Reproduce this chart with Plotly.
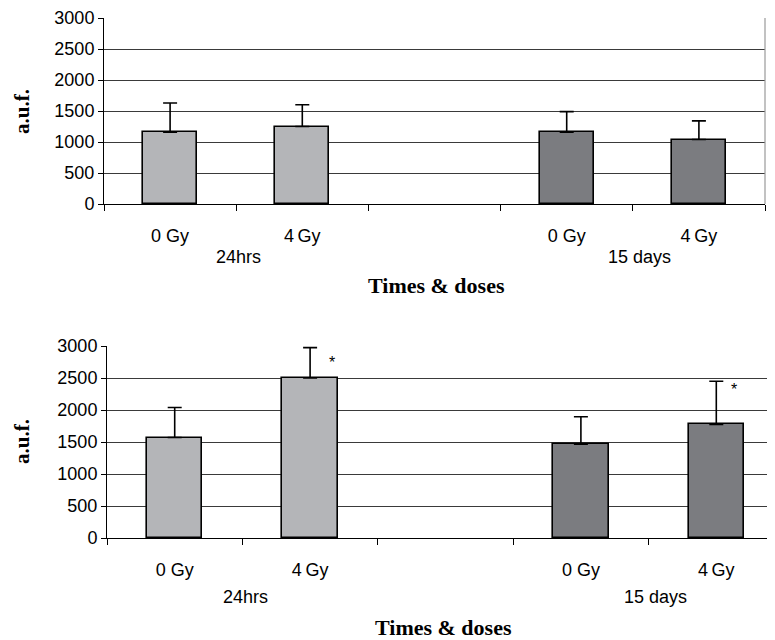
import plotly.graph_objects as go

# ---- data ----
dose_labels = ["0 Gy", "4\u2009Gy", "", "0 Gy", "4\u2009Gy"]
group_labels = ["24hrs", "15 days"]
group_pos = [1.02, 4.05]                 # between the two doses of each group
pos_24h = [0.5, 1.5]
pos_15d = [3.5, 4.5]

top_24h = [1160, 1250]
top_24h_err = [470, 350]
top_15d = [1160, 1040]
top_15d_err = [330, 300]

bot_24h = [1570, 2500]
bot_24h_err = [470, 475]
bot_15d = [1465, 1775]
bot_15d_err = [430, 675]

star_x = [1.66, 4.63]
star_y = [2790, 2370]

y_ticks = [0, 500, 1000, 1500, 2000, 2500, 3000]

light = "#b4b5b8"
dark = "#7b7c80"
SANS = "Liberation Sans, Arial, sans-serif"
SERIF = "Liberation Serif, Times New Roman, serif"

# page has an 8px body margin; figure sized to fit the window
OFF = 8
W, H = 775 - OFF, 640 - OFF


def fx(p):
    return (p - OFF) / W


def fy(p):
    return 1 - (p - OFF) / H


fig = go.Figure()


def add_bars(xs, ys, errs, color, xa, ya):
    fig.add_trace(go.Bar(
        x=xs, y=ys, width=0.41, xaxis=xa, yaxis=ya,
        marker=dict(color=color, line=dict(color="black", width=1.6)),
        error_y=dict(type="data", array=errs, arrayminus=[0] * len(errs), symmetric=False,
                     color="black", thickness=1.6, width=7),
        showlegend=False, hoverinfo="skip"))


add_bars(pos_24h, top_24h, top_24h_err, light, "x", "y")
add_bars(pos_15d, top_15d, top_15d_err, dark, "x", "y")
add_bars(pos_24h, bot_24h, bot_24h_err, light, "x2", "y2")
add_bars(pos_15d, bot_15d, bot_15d_err, dark, "x2", "y2")

cat_centers = [i + 0.5 for i in range(len(dose_labels))]
boundaries = list(range(len(dose_labels) + 1))


def xaxis_cfg(domain, rng, anchor):
    return dict(domain=domain, range=rng, anchor=anchor, automargin=False,
                tickmode="array", tickvals=cat_centers, ticktext=dose_labels,
                ticks="", ticklabelstandoff=15,
                tickfont=dict(family=SANS, size=18, color="black"),
                showline=True, linecolor="black", linewidth=1,
                showgrid=False, zeroline=False,
                minor=dict(tickmode="array", tickvals=boundaries, ticks="outside",
                           ticklen=6, tickcolor="black", tickwidth=1, showgrid=False))


def yaxis_cfg(domain, anchor):
    return dict(domain=domain, range=[0, 3000], anchor=anchor, automargin=False,
                tickmode="array", tickvals=y_ticks,
                ticks="outside", ticklen=5, tickcolor="black",
                tickfont=dict(family=SANS, size=18, color="black"),
                showline=True, linecolor="black", linewidth=1,
                showgrid=True, gridcolor="#3a3a3a", gridwidth=1, zeroline=False)


fig.update_layout(
    width=W, height=H, margin=dict(l=0, r=0, t=0, b=0),
    paper_bgcolor="white", plot_bgcolor="white", bargap=0,
    xaxis=xaxis_cfg([fx(104), fx(765)], [0, 5], "y"),
    yaxis=yaxis_cfg([fy(204), fy(18)], "x"),
    xaxis2=xaxis_cfg([fx(107), 1.0], [0, 5 * (775 - 107) / (784 - 107)], "y2"),
    yaxis2=yaxis_cfg([fy(538), fy(346)], "x2"),
)

# right border of the top chart
fig.add_shape(type="line", xref="x domain", yref="y domain", x0=1, x1=1, y0=0, y1=1,
              line=dict(color="#999999", width=1.2))

C = dict(xanchor="center", yanchor="middle", showarrow=False)
ann = []
for xa, ypix in (("x", 257), ("x2", 597)):
    for g, p in zip(group_labels, group_pos):
        ann.append(dict(text=g, x=p, xref=xa, y=fy(ypix), yref="paper",
                        font=dict(family=SANS, size=18, color="black"), **C))
for ypix, xpix in ((285, 436), (627, 443)):
    ann.append(dict(text="<b>Times &amp; doses</b>", x=fx(xpix), xref="paper",
                    y=fy(ypix), yref="paper",
                    font=dict(family=SERIF, size=22, color="black"), **C))
for ypix in (111, 441):
    ann.append(dict(text="<b>a.u.f.</b>", x=fx(22), xref="paper", y=fy(ypix),
                    yref="paper", textangle=-90,
                    font=dict(family=SERIF, size=21, color="black"), **C))
for sx, sy in zip(star_x, star_y):
    ann.append(dict(text="*", x=sx, xref="x2", y=sy, yref="y2", yshift=-3,
                    font=dict(family=SANS, size=16, color="black"), **C))
fig.update_layout(annotations=ann)

fig.write_html("out.html")
